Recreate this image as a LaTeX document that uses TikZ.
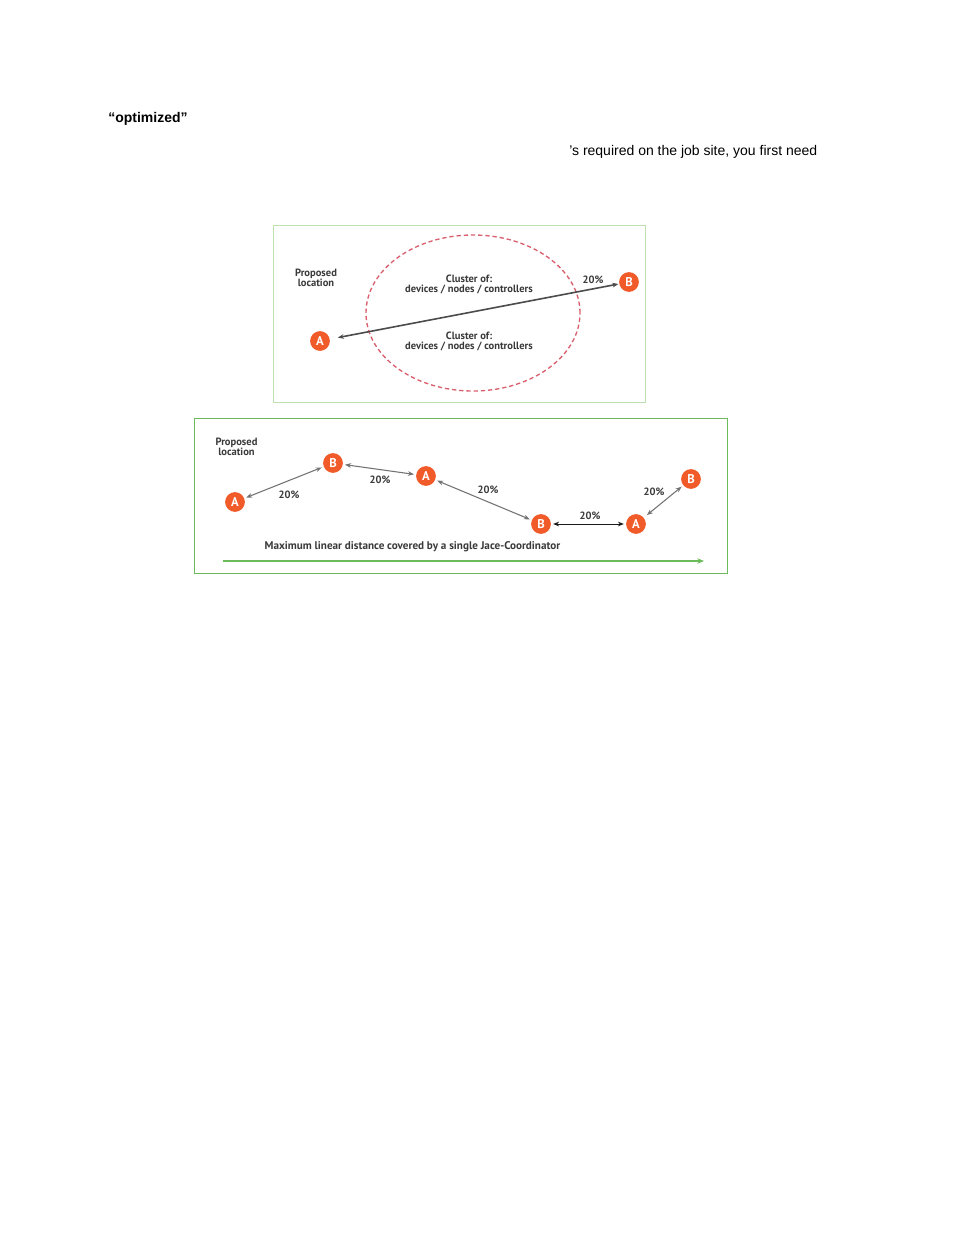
\documentclass[tikz,border=0pt]{standalone}
\usepackage{fontspec}
\setmainfont{Liberation Sans}
\newfontfamily\lblfont{PT Sans}
\usetikzlibrary{arrows.meta,shapes.geometric}
\definecolor{dot}{HTML}{F15A29}
\definecolor{txt}{HTML}{3A3A3A}
\definecolor{boxa}{HTML}{BCE0B0}
\definecolor{boxb}{HTML}{6CBB5A}
\definecolor{ring}{HTML}{D9606E}
\tikzset{
 dotnode/.style={circle,fill=dot,text=white,minimum size=14.8pt,inner sep=0pt,font=\lblfont\bfseries\fontsize{9.5}{9.5}\selectfont},
 lbl/.style={text=txt,align=center,inner sep=0pt,font=\lblfont\bfseries\fontsize{7.9}{7.6}\selectfont},
 body/.style={anchor=base west,inner sep=0pt,text=black,font=\fontsize{10.5}{12}\selectfont},
 twoway/.style={{Stealth[length=4.5pt,width=3.5pt]}-{Stealth[length=4.5pt,width=3.5pt]},line width=0.6pt,draw=#1},
}
\begin{document}
\begin{tikzpicture}[x=0.75pt,y=-0.75pt]
\useasboundingbox[fill=white] (0,0) rectangle (954,1235);
\node[body,font=\bfseries\fontsize{10.5}{12}\selectfont] (t1) at (108,122) {“optimized”};
\node[body] (t2) at (569,155) {’s required on the job site, you first need};
% top panel
\node[draw=boxa,line width=0.5pt,minimum width=279pt,minimum height=132.75pt,inner sep=0pt] (p1) at (459,313.5) {};
\node[draw=ring,dash pattern=on 3.2pt off 2.2pt,line width=1pt,ellipse,minimum width=160.5pt,minimum height=117pt,inner sep=0pt] (cl) at (473,313) {};
\node[lbl] (pl1) at (316,278) {Proposed\\location};
\node[lbl] (c1) at (469,284.5) {Cluster of:\\devices / nodes / controllers};
\node[lbl] (c2) at (469,341.5) {Cluster of:\\devices / nodes / controllers};
\node[lbl] (pc1) at (593,280) {20\%};
\node[dotnode] (a1) at (320,341) {A};
\node[dotnode] (b1) at (629,282) {B};
\draw[twoway=black!70,line width=1.2pt,shorten <=6pt,shorten >=0.5pt] (a1) -- (b1);
% bottom panel
\node[draw=boxb,line width=0.5pt,minimum width=399.75pt,minimum height=116.25pt,inner sep=0pt] (p2) at (460.5,495.5) {};
\node[lbl] (pl2) at (236.5,446.5) {Proposed\\location};
\node[dotnode] (n1) at (235,502) {A};
\node[dotnode] (n2) at (333,463) {B};
\node[dotnode] (n3) at (426,476) {A};
\node[dotnode] (n4) at (541,524) {B};
\node[dotnode] (n5) at (636,524) {A};
\node[dotnode] (n6) at (691,479) {B};
\draw[twoway=black!55,line width=0.8pt,shorten <=1.5pt,shorten >=1.5pt] (n1) -- (n2);
\draw[twoway=black!55,line width=0.8pt,shorten <=1.5pt,shorten >=1.5pt] (n2) -- (n3);
\draw[twoway=black!55,line width=0.8pt,shorten <=1.5pt,shorten >=1.5pt] (n3) -- (n4);
\draw[twoway=black!90,line width=0.7pt,shorten <=1.5pt,shorten >=1.5pt] (n4) -- (n5);
\draw[twoway=black!55,line width=0.8pt,shorten <=3pt,shorten >=1.5pt] (n5) -- (n6);
\node[lbl] (p12) at (289,495) {20\%};
\node[lbl] (p23) at (380,480) {20\%};
\node[lbl] (p34) at (488,490) {20\%};
\node[lbl] (p45) at (590,516) {20\%};
\node[lbl] (p56) at (654,492) {20\%};
\node[lbl,font=\lblfont\bfseries\fontsize{8.35}{8.35}\selectfont] (mx) at (412.5,546.5) {Maximum linear distance covered by a single Jace-Coordinator};
\coordinate (g1) at (223,561);
\coordinate (g2) at (704,561);
\draw[-{Stealth[length=5pt,width=4pt]},draw=boxb,line width=1.3pt] (g1) -- (g2);
\end{tikzpicture}
\end{document}
